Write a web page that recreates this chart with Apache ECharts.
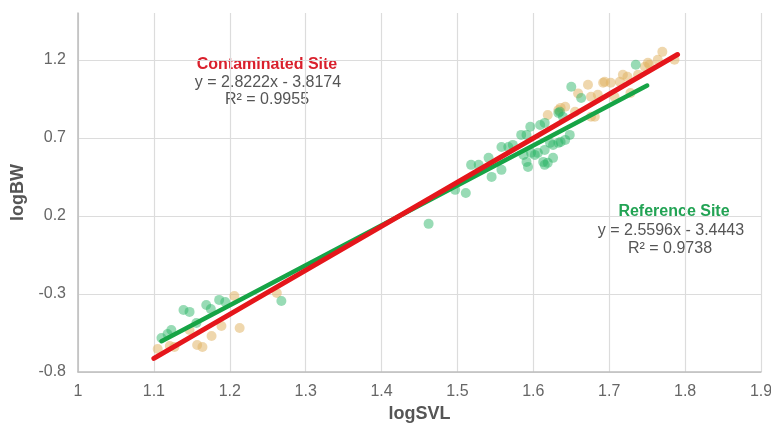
<!DOCTYPE html>
<html><head><meta charset="utf-8">
<script src="https://cdn.jsdelivr.net/npm/echarts@6/dist/echarts.min.js"></script>
<style>html,body{margin:0;padding:0;background:#fff}#c{width:771px;height:425px}</style>
</head><body><div id="c"></div>
<script>
// Contaminated Site scatter points [logSVL, logBW]
const contaminatedPoints = [
  [1.105,-0.653],[1.121,-0.633],[1.127,-0.640],[1.147,-0.531],[1.157,-0.627],[1.164,-0.640],
  [1.176,-0.569],[1.189,-0.505],[1.213,-0.518],[1.206,-0.313],[1.262,-0.294],
  [1.619,0.847],[1.633,0.879],[1.636,0.892],[1.642,0.899],[1.655,0.867],[1.659,0.985],
  [1.676,0.835],[1.681,0.835],[1.676,0.963],[1.672,1.040],[1.685,0.976],[1.692,1.053],
  [1.694,1.059],[1.702,1.053],[1.707,0.963],[1.714,1.059],[1.718,1.104],[1.724,1.091],
  [1.728,0.988],[1.738,1.104],[1.747,1.155],[1.751,1.181],[1.753,1.168],[1.764,1.200],
  [1.770,1.251],[1.786,1.200]
];
// Reference Site scatter points [logSVL, logBW]
const referencePoints = [
  [1.110,-0.582],[1.118,-0.556],[1.123,-0.531],[1.139,-0.403],[1.147,-0.415],[1.156,-0.486],
  [1.169,-0.371],[1.175,-0.396],[1.186,-0.338],[1.194,-0.351],[1.268,-0.345],
  [1.462,0.149],[1.497,0.367],[1.511,0.347],[1.518,0.527],[1.528,0.527],[1.541,0.572],
  [1.545,0.450],[1.558,0.495],[1.558,0.642],[1.567,0.642],[1.573,0.655],[1.584,0.719],
  [1.587,0.591],[1.591,0.719],[1.591,0.546],[1.593,0.514],[1.596,0.771],[1.597,0.604],
  [1.602,0.591],[1.606,0.604],[1.609,0.783],[1.613,0.546],[1.615,0.796],[1.615,0.623],
  [1.615,0.527],[1.619,0.540],[1.622,0.668],[1.626,0.655],[1.626,0.572],[1.633,0.860],
  [1.633,0.668],[1.635,0.867],[1.636,0.674],[1.639,0.835],[1.642,0.687],[1.648,0.719],
  [1.650,1.027],[1.663,0.956],[1.735,1.168]
];
// Trend line end points
const contaminatedTrend = [[1.10,-0.713],[1.79,1.234]];
const referenceTrend = [[1.11,-0.603],[1.75,1.035]];
// Axis ticks
const xTicks = {min:1, max:1.9, interval:0.1};
const yTicks = {min:-0.8, max:1.5, interval:0.5};

const chart = echarts.init(document.getElementById('c'), null, {renderer:'canvas'});
const labelFont = 'Liberation Sans, Arial, sans-serif';
chart.setOption({
  animation:false,
  backgroundColor:'#fff',
  grid:{left:78, right:10, top:13, bottom:53, outerBoundsMode:'none', containLabel:false},
  xAxis:{
    type:'value', min:xTicks.min, max:xTicks.max, interval:xTicks.interval,
    name:'logSVL', nameLocation:'middle', nameGap:28,
    nameTextStyle:{fontFamily:labelFont, fontSize:18, fontWeight:'bold', color:'#555'},
    axisLine:{show:true, onZero:false, lineStyle:{color:'#bdbdbd', width:1.5}},
    axisTick:{show:false},
    axisLabel:{fontFamily:labelFont, fontSize:16, color:'#666', margin:12,
      formatter:v=>String(Math.round(v*10)/10)},
    splitLine:{show:true, lineStyle:{color:'#dcdcdc', width:1.2}}
  },
  yAxis:{
    type:'value', min:yTicks.min, max:yTicks.max, interval:yTicks.interval,
    name:'logBW', nameLocation:'middle', nameGap:46,
    nameTextStyle:{fontFamily:labelFont, fontSize:18, fontWeight:'bold', color:'#555'},
    axisLine:{show:true, onZero:false, lineStyle:{color:'#bdbdbd', width:1.5}},
    axisTick:{show:false},
    axisLabel:{fontFamily:labelFont, fontSize:16, color:'#666', margin:12, showMaxLabel:false,
      formatter:v=>String(Math.round(v*10)/10)},
    splitLine:{show:true, lineStyle:{color:['#dcdcdc','#dcdcdc','#dcdcdc','#dcdcdc','#dcdcdc','rgba(0,0,0,0)'], width:1.2}}
  },
  series:[
    {type:'scatter', data:contaminatedPoints, symbolSize:10,
      itemStyle:{color:'rgba(224,178,98,0.65)'}, z:2},
    {type:'scatter', data:referencePoints, symbolSize:10,
      itemStyle:{color:'rgba(40,180,100,0.6)'}, z:2},
    {type:'line', data:referenceTrend, showSymbol:false, symbol:'none',
      lineStyle:{color:'#16a446', width:4.5, cap:'round'}, z:3},
    {type:'line', data:contaminatedTrend, showSymbol:false, symbol:'none',
      lineStyle:{color:'#e5161b', width:5, cap:'round'}, z:4}
  ],
  graphic:[
    {type:'text', x:267, y:65, style:{text:'Contaminated Site', font:'bold 16px '+labelFont, fill:'#d9202c', align:'center', verticalAlign:'middle'}},
    {type:'text', x:268, y:83, style:{text:'y = 2.8222x - 3.8174', font:'16px '+labelFont, fill:'#555', align:'center', verticalAlign:'middle'}},
    {type:'text', x:267, y:100, style:{text:'R² = 0.9955', font:'16px '+labelFont, fill:'#555', align:'center', verticalAlign:'middle'}},
    {type:'text', x:674, y:212, style:{text:'Reference Site', font:'bold 16px '+labelFont, fill:'#22a354', align:'center', verticalAlign:'middle'}},
    {type:'text', x:671, y:231, style:{text:'y = 2.5596x - 3.4443', font:'16px '+labelFont, fill:'#555', align:'center', verticalAlign:'middle'}},
    {type:'text', x:670, y:249, style:{text:'R² = 0.9738', font:'16px '+labelFont, fill:'#555', align:'center', verticalAlign:'middle'}}
  ]
});
</script></body></html>
